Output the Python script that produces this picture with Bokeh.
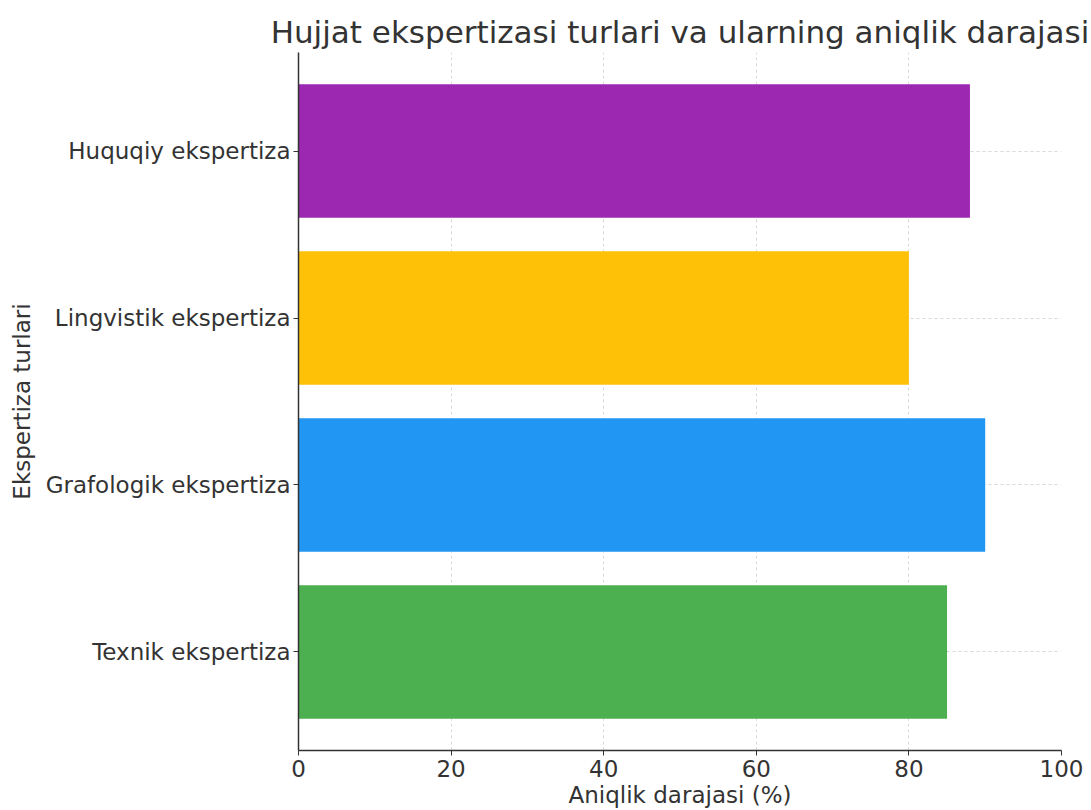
from bokeh.plotting import figure
from bokeh.models import Range1d, FixedTicker, ColumnDataSource
from bokeh.embed import file_html
from bokeh.resources import INLINE

categories = ["Texnik ekspertiza", "Grafologik ekspertiza", "Lingvistik ekspertiza", "Huquqiy ekspertiza"]
values = [85, 90, 80, 88]
colors = ["#4CAF50", "#2196F3", "#FFC107", "#9C27B0"]
x_ticks = [0, 20, 40, 60, 80, 100]

title = "Hujjat ekspertizasi turlari va ularning aniqlik darajasi"
x_label = "Aniqlik darajasi (%)"
y_label = "Ekspertiza turlari"

ypos = list(range(len(categories)))
src = ColumnDataSource(dict(y=ypos, right=values, color=colors, name=categories))

FONT = "DejaVu Sans"
TXT = "#333333"

p = figure(frame_width=763, frame_height=698, output_backend="svg", toolbar_location=None,
           x_range=Range1d(0, 100), y_range=Range1d(-0.59, len(categories) - 1 + 0.59),
           min_border_left=298, min_border_top=52, min_border_right=30, min_border_bottom=40,
           title=title)

p.hbar(y="y", left=0, right="right", height=0.8, color="color", source=src, line_color=None)

p.title.text_font = FONT
p.title.text_font_size = "31px"
p.title.text_font_style = "normal"
p.title.text_color = TXT
p.title.align = "center"
p.title.offset = 0
p.title.standoff = 5

p.outline_line_color = None

p.xaxis.ticker = FixedTicker(ticks=x_ticks)
p.yaxis.ticker = FixedTicker(ticks=ypos)
p.yaxis.major_label_overrides = {i: c for i, c in enumerate(categories)}

for ax in (p.xaxis[0], p.yaxis[0]):
    ax.axis_line_color = "#333333"
    ax.axis_line_width = 1.5
    ax.major_tick_line_color = "#333333"
    ax.major_tick_out = 5
    ax.major_tick_in = 0
    ax.minor_tick_line_color = None
    ax.major_label_text_font = FONT
    ax.major_label_text_font_size = "23px"
    ax.major_label_text_color = TXT
    ax.axis_label_text_font = FONT
    ax.axis_label_text_font_size = "23px"
    ax.axis_label_text_font_style = "normal"
    ax.axis_label_text_color = TXT

p.xaxis.axis_label = x_label
p.yaxis.axis_label = y_label
p.xaxis.major_label_standoff = 4
p.yaxis.major_label_standoff = 3
p.xaxis.axis_label_standoff = 2
p.yaxis.axis_label_standoff = 8

for g in (p.xgrid[0], p.ygrid[0]):
    g.grid_line_color = "#c8c8c8"
    g.grid_line_dash = "3 3"
    g.grid_line_width = 1
    g.grid_line_alpha = 0.7

open("out.html", "w").write(file_html(p, INLINE))
